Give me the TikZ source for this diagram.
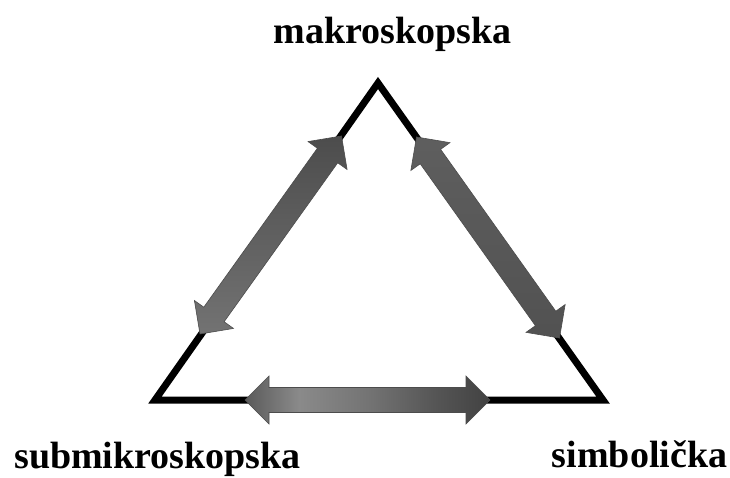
\documentclass[tikz,border=0pt]{standalone}
\usepackage{fontspec}
\setmainfont{Liberation Serif}
\usetikzlibrary{calc}
\definecolor{ga}{HTML}{5A5A5A}
\definecolor{gb}{HTML}{8A8A8A}
\definecolor{gc}{HTML}{747474}
\definecolor{gd}{HTML}{555555}
\definecolor{ge}{HTML}{424242}
\pgfdeclarehorizontalshading{bottomarrowshade}{100bp}{color(0bp)=(ga); color(25bp)=(ga); color(36bp)=(gb); color(50bp)=(gc); color(64bp)=(gd); color(75bp)=(ge); color(100bp)=(ge)}
\newcommand\dblarrow[3]{%
  \path[#1] (#2)
    -- ($(#2)!24pt!(#3)!24pt!90:(#3)$)
    -- ($(#2)!24pt!(#3)!12.5pt!90:(#3)$)
    -- ($(#3)!24pt!(#2)!12.5pt!-90:(#2)$)
    -- ($(#3)!24pt!(#2)!24pt!-90:(#2)$)
    -- (#3)
    -- ($(#3)!24pt!(#2)!24pt!90:(#2)$)
    -- ($(#3)!24pt!(#2)!12.5pt!90:(#2)$)
    -- ($(#2)!24pt!(#3)!12.5pt!-90:(#3)$)
    -- ($(#2)!24pt!(#3)!24pt!-90:(#3)$)
    -- cycle;}
\tikzset{
  lbl/.style={anchor=base, inner sep=0pt, font=\fontsize{38}{40}\selectfont\bfseries},
  edge/.style={line width=7pt, line join=miter, black},
  darrow/.style={draw=black!70, line width=0.6pt, line join=miter},
}
\begin{document}
\begin{tikzpicture}[x=1pt, y=-1pt]
  \fill[white] (0,0) rectangle (730,477);
  \useasboundingbox (0,0) rectangle (730,477);
  % triangle corners
  \coordinate (T) at (378,83);
  \coordinate (L) at (155,400);
  \coordinate (R) at (603,400);
  \draw[edge] (L) -- (T) -- (R) -- cycle;
  % arrow tips
  \coordinate (la) at (200,334);
  \coordinate (lb) at (341.5,136);
  \coordinate (ra) at (416.5,137);
  \coordinate (rb) at (559.5,338);
  \coordinate (ba) at (245,400);
  \coordinate (bb) at (490,400);
  \dblarrow{darrow, top color=black!70, bottom color=black!55}{la}{lb}
  \dblarrow{darrow, top color=black!63, bottom color=black!68}{ra}{rb}
  \dblarrow{darrow, shading=bottomarrowshade}{ba}{bb}
  % labels
  \node[lbl] (makro) at (392.5,43) {makroskopska};
  \node[lbl] (submikro) at (157.5,468) {submikroskopska};
  \node[lbl] (simbol) at (639.5,467) {simbolička};
\end{tikzpicture}
\end{document}
